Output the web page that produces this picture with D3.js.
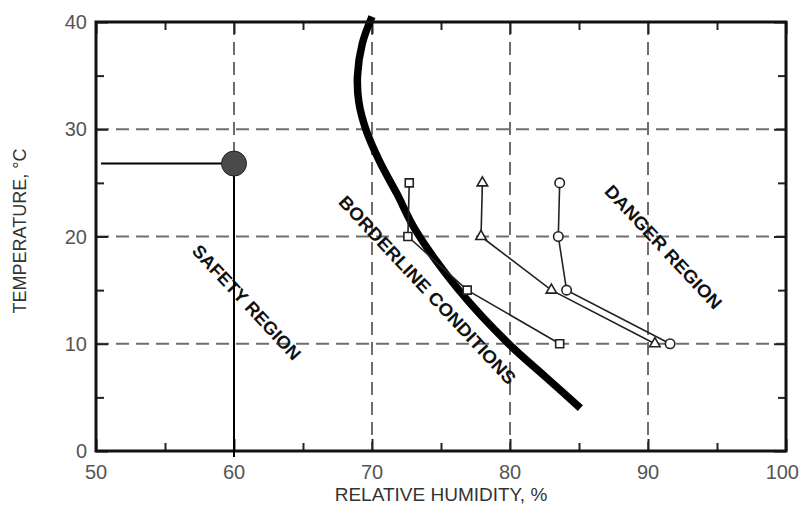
<!DOCTYPE html>
<html lang="en">
	<head>
		<meta charset="utf-8">
		<title>Temperature / relative humidity regions</title>
		<script type="text/javascript" src="https://d3js.org/d3.v7.min.js"></script>
		<style type="text/css">
			body{
				margin: 0;
				background: #fff;
			}
			svg text{
				font-family: "Liberation Sans", Arial, sans-serif;
			}
		</style>
	</head>
	<body>
		<script type="text/javascript">

			//Axis ticks
			var rhTicks = [50, 60, 70, 80, 90, 100];
			var rhMinor = [55, 65, 75, 85, 95];
			var tempTicks = [0, 10, 20, 30, 40];
			var tempMinor = [5, 15, 25, 35];

			//Borderline curve (RH %, temperature C)
			var borderRH   = [70.0, 69.3, 68.95, 69.05, 69.55, 70.55, 71.8, 73.2, 76.3, 79.9, 82.5, 85.1];
			var borderTemp = [40.5, 38.0, 35.0, 32.5, 30.0, 27.0, 24.0, 20.5, 15.0, 10.0, 7.0, 4.0];

			//Measured series
			var seriesTemp  = [25, 20, 15, 10];
			var squareRH    = [72.7, 72.6, 76.9, 83.6];
			var triangleRH  = [78.0, 77.9, 83.0, 90.5];
			var circleRH    = [83.6, 83.5, 84.1, 91.6];

			//Marked point
			var markRH = 60;
			var markTemp = 26.8;

			//Region labels
			var regionNames = ["SAFETY REGION", "BORDERLINE CONDITIONS", "DANGER REGION"];
			var regionRH    = [60.9, 74.0, 91.1];
			var regionTemp  = [13.85, 15.0, 19.0];
			var regionLen   = [150, 250, 162];

			//Width and height
			var w = 800;
			var h = 507;
			var margin = {top: 22, right: 14, bottom: 56, left: 96};

			var xScale = d3.scaleLinear()
							.domain([50, 100])
							.range([margin.left, w - margin.right]);

			var yScale = d3.scaleLinear()
							.domain([0, 40])
							.range([h - margin.bottom, margin.top]);

			var svg = d3.select("body")
						.append("svg")
						.attr("width", w)
						.attr("height", h);

			var x0 = xScale(50), x1 = xScale(100), y0 = yScale(0), y1 = yScale(40);

			//Dashed grid
			svg.selectAll("line.vgrid")
			   .data(rhTicks.slice(1, -1))
			   .enter()
			   .append("line")
			   .attr("class", "vgrid")
			   .attr("x1", function(d) { return xScale(d); })
			   .attr("x2", function(d) { return xScale(d); })
			   .attr("y1", y1)
			   .attr("y2", y0)
			   .attr("stroke", "#6e6e6e")
			   .attr("stroke-width", 2)
			   .attr("stroke-dasharray", "13,7");

			svg.selectAll("line.hgrid")
			   .data(tempTicks.slice(1, -1))
			   .enter()
			   .append("line")
			   .attr("class", "hgrid")
			   .attr("x1", x0)
			   .attr("x2", x1)
			   .attr("y1", function(d) { return yScale(d); })
			   .attr("y2", function(d) { return yScale(d); })
			   .attr("stroke", "#6e6e6e")
			   .attr("stroke-width", 2)
			   .attr("stroke-dasharray", "13,7");

			//Axes with inward ticks on all four sides
			function styleAxis(g) {
				g.select(".domain").remove();
				g.selectAll(".tick line").attr("stroke", "#222").attr("stroke-width", 2);
				g.selectAll("text").remove();
			}
			var sides = [
				[d3.axisBottom, 0, y0, xScale],
				[d3.axisTop, 0, y1, xScale],
				[d3.axisLeft, x0, 0, yScale],
				[d3.axisRight, x1, 0, yScale]
			];
			sides.forEach(function(s, i) {
				var major = i < 2 ? rhTicks : tempTicks;
				var minor = i < 2 ? rhMinor : tempMinor;
				svg.append("g")
				   .attr("transform", "translate(" + s[1] + "," + s[2] + ")")
				   .call(s[0](s[3]).tickValues(major).tickSize(-12))
				   .call(styleAxis);
				svg.append("g")
				   .attr("transform", "translate(" + s[1] + "," + s[2] + ")")
				   .call(s[0](s[3]).tickValues(minor).tickSize(-8))
				   .call(styleAxis);
			});

			//Tick labels
			svg.selectAll("text.xlab")
			   .data(rhTicks)
			   .enter()
			   .append("text")
			   .attr("class", "xlab")
			   .attr("x", function(d, i) { return i == rhTicks.length - 1 ? w - 1 : xScale(d); })
			   .attr("y", y0 + 28)
			   .attr("text-anchor", function(d, i) { return i == rhTicks.length - 1 ? "end" : "middle"; })
			   .attr("font-size", "20px")
			   .attr("fill", "#555")
			   .text(function(d) { return d; });

			svg.selectAll("text.ylab")
			   .data(tempTicks)
			   .enter()
			   .append("text")
			   .attr("class", "ylab")
			   .attr("x", x0 - 9)
			   .attr("y", function(d) { return yScale(d) + 7; })
			   .attr("text-anchor", "end")
			   .attr("font-size", "20px")
			   .attr("fill", "#555")
			   .text(function(d) { return d; });

			//Axis titles
			svg.append("text")
			   .attr("x", 441)
			   .attr("y", 501)
			   .attr("text-anchor", "middle")
			   .attr("font-size", "19px")
			   .attr("fill", "#333")
			   .text("RELATIVE HUMIDITY, %");

			svg.append("text")
			   .attr("transform", "translate(26,231) rotate(-90)")
			   .attr("text-anchor", "middle")
			   .attr("font-size", "18px")
			   .attr("fill", "#333")
			   .text("TEMPERATURE, \u00B0C");

			//Borderline curve
			var border = borderRH.map(function(d, i) { return [d, borderTemp[i]]; });
			svg.append("path")
			   .datum(border)
			   .attr("d", d3.line()
					.x(function(d) { return xScale(d[0]); })
					.y(function(d) { return yScale(d[1]); })
					.curve(d3.curveCatmullRom.alpha(0.5)))
			   .attr("fill", "none")
			   .attr("stroke", "#000")
			   .attr("stroke-width", 7.5);

			//Series lines
			var seriesList = [
				{rh: squareRH, shape: d3.symbolSquare, size: 64},
				{rh: triangleRH, shape: d3.symbolTriangle, size: 48},
				{rh: circleRH, shape: d3.symbolCircle, size: 70}
			];
			var line = d3.line()
						.x(function(d) { return xScale(d[0]); })
						.y(function(d) { return yScale(d[1]); });

			seriesList.forEach(function(s) {
				var pts = s.rh.map(function(d, i) { return [d, seriesTemp[i]]; });
				svg.append("path")
				   .datum(pts)
				   .attr("d", line)
				   .attr("fill", "none")
				   .attr("stroke", "#222")
				   .attr("stroke-width", 1.6);
				svg.selectAll(null)
				   .data(pts)
				   .enter()
				   .append("path")
				   .attr("transform", function(d) { return "translate(" + xScale(d[0]) + "," + yScale(d[1]) + ")"; })
				   .attr("d", d3.symbol().type(s.shape).size(s.size))
				   .attr("fill", "#fff")
				   .attr("stroke", "#222")
				   .attr("stroke-width", 1.6);
			});

			//Region labels
			svg.selectAll("text.region")
			   .data(regionNames)
			   .enter()
			   .append("text")
			   .attr("class", "region")
			   .attr("transform", function(d, i) {
					return "translate(" + xScale(regionRH[i]) + "," + yScale(regionTemp[i]) + ") rotate(47)";
			   })
			   .attr("text-anchor", "middle")
			   .attr("dominant-baseline", "central")
			   .attr("font-size", "18px")
			   .attr("font-weight", "bold")
			   .attr("textLength", function(d, i) { return regionLen[i]; })
			   .attr("lengthAdjust", "spacingAndGlyphs")
			   .attr("fill", "#111")
			   .text(function(d) { return d; });

			//Frame
			svg.append("rect")
			   .attr("x", x0)
			   .attr("y", y1)
			   .attr("width", x1 - x0)
			   .attr("height", y0 - y1)
			   .attr("fill", "none")
			   .attr("stroke", "#111")
			   .attr("stroke-width", 3);

			//Marked point with guide lines
			svg.append("line")
			   .attr("x1", x0 + 5)
			   .attr("x2", xScale(markRH))
			   .attr("y1", yScale(markTemp))
			   .attr("y2", yScale(markTemp))
			   .attr("stroke", "#000")
			   .attr("stroke-width", 2);
			svg.append("line")
			   .attr("x1", xScale(markRH))
			   .attr("x2", xScale(markRH))
			   .attr("y1", yScale(markTemp))
			   .attr("y2", y0 + 6)
			   .attr("stroke", "#000")
			   .attr("stroke-width", 2);
			svg.append("circle")
			   .attr("cx", xScale(markRH))
			   .attr("cy", yScale(markTemp))
			   .attr("r", 12.5)
			   .attr("fill", "#4a4a4a")
			   .attr("stroke", "#222")
			   .attr("stroke-width", 1);

		</script>
	</body>
</html>
